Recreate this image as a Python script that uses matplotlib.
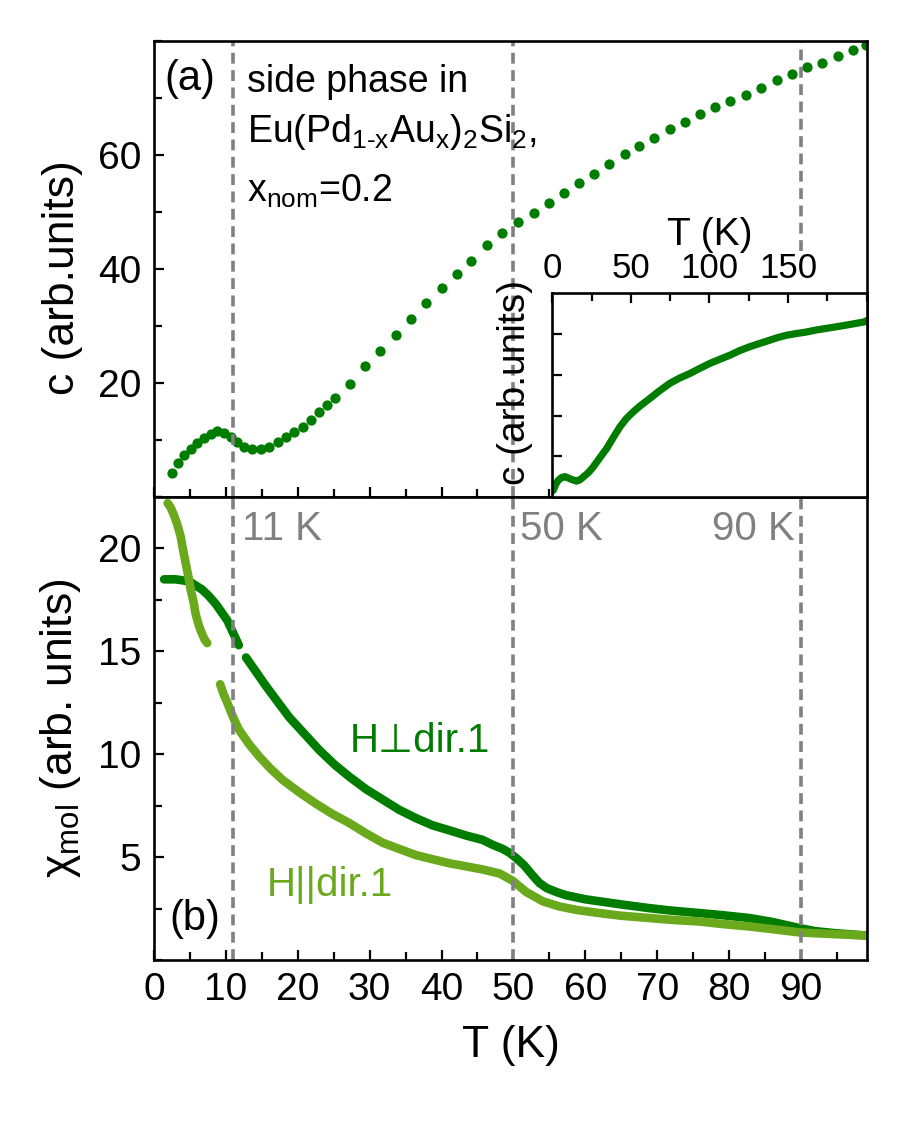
import matplotlib
matplotlib.use('Agg')
import numpy as np
import matplotlib.pyplot as plt
from matplotlib.ticker import MultipleLocator

plt.rcParams['font.family'] = ['Liberation Sans', 'DejaVu Sans']
plt.rcParams['mathtext.fontset'] = 'custom'
plt.rcParams['mathtext.rm'] = 'Liberation Sans'
plt.rcParams['mathtext.it'] = 'Liberation Sans:italic'
plt.rcParams['mathtext.default'] = 'regular'

# (a) specific heat, main panel
T_c = [2.5, 3.4, 4.2, 5.1, 6.0, 7.0, 7.9, 8.8, 9.7, 10.7, 11.6, 12.5, 13.7, 14.9,
       16.0, 17.2, 18.3, 19.5, 20.7, 21.8, 23.0, 24.1, 25.2, 27.3, 29.4, 31.5,
       33.7, 35.8, 37.9, 40.0, 42.1, 44.1, 46.3, 48.4, 50.6, 52.8, 54.9, 57.0,
       59.1, 61.2, 63.3, 65.5, 67.5, 69.6, 71.8, 73.9, 76.0, 78.1, 80.2, 82.4,
       84.5, 86.7, 88.8, 90.8, 93.0, 95.1, 97.3, 99.1]
c_vals = [4.3, 5.9, 7.4, 8.5, 9.4, 10.3, 11.0, 11.5, 11.2, 10.5, 9.6, 8.8, 8.4, 8.4,
          8.8, 9.6, 10.5, 11.4, 12.3, 13.5, 15.0, 16.1, 17.3, 19.9, 22.9, 25.6,
          28.5, 31.2, 34.0, 36.6, 39.2, 41.4, 44.2, 46.3, 48.3, 49.9, 51.6, 53.4,
          55.0, 56.7, 58.4, 60.1, 61.6, 63.0, 64.5, 65.8, 67.2, 68.5, 69.5, 70.6,
          71.7, 73.2, 74.2, 75.4, 76.2, 77.4, 78.5, 79.3]

# inset, full temperature range
T_in = [0.6, 2, 3.8, 6, 8.1, 10, 12.3, 15.5, 17.5, 19.7, 23, 26.1, 30, 34.6, 38.8,
        43.0, 47, 51.5, 56, 62.1, 68, 74.8, 81, 87.5, 94, 100.3, 106.5, 113, 119,
        125.7, 132, 138.4, 144, 149, 155, 161.7, 168, 174.4, 181, 187.2, 193, 198.8, 200]
c_in = [0.16, 0.3, 0.41, 0.48, 0.5, 0.47, 0.43, 0.39, 0.42, 0.49, 0.6, 0.74, 0.95,
        1.19, 1.46, 1.72, 1.92, 2.09, 2.24, 2.42, 2.6, 2.79, 2.92, 3.03, 3.16, 3.28,
        3.38, 3.48, 3.59, 3.69, 3.77, 3.85, 3.92, 3.97, 4.01, 4.05, 4.1, 4.14, 4.18,
        4.22, 4.26, 4.30, 4.33]

# (b) susceptibility, H perpendicular dir.1
T_perp_lo = [1.4, 3.0, 4.0, 4.9, 5.8, 6.7, 7.6, 8.6, 9.4, 10.2, 11.0, 11.8]
chi_perp_lo = [18.5, 18.5, 18.45, 18.4, 18.2, 18.0, 17.7, 17.3, 16.9, 16.5, 15.9, 15.3]
T_perp_hi = [12.8, 14.2, 15.6, 17.2, 18.8, 20.9, 23.0, 25.1, 27.2, 29.5, 31.8, 34.1,
             36.4, 38.7, 41.1, 43.4, 45.7, 47.1, 48.5, 49.5, 50.4, 51.5, 52.7, 53.6,
             54.6, 56.0, 57.3, 60, 62.0, 65, 68.9, 72, 75.9, 79, 82.8, 86, 89.8, 92,
             94.5, 97, 99.1]
chi_perp_hi = [14.7, 14.0, 13.3, 12.55, 11.8, 11.0, 10.2, 9.5, 8.9, 8.3, 7.8, 7.3,
               6.9, 6.55, 6.3, 6.05, 5.84, 5.6, 5.4, 5.2, 4.95, 4.6, 4.1, 3.75,
               3.5, 3.3, 3.15, 2.95, 2.85, 2.7, 2.52, 2.4, 2.28, 2.18, 2.04, 1.85, 1.55, 1.4,
               1.31, 1.24, 1.19]

# H parallel dir.1
T_par_lo = [1.9, 2.3, 2.8, 3.2, 3.7, 4.0, 4.4, 4.8, 5.1, 5.5, 5.8, 6.2, 6.5, 7.0, 7.4]
chi_par_lo = [22.2, 22.0, 21.6, 21.2, 20.6, 20.0, 19.3, 18.6, 18.0, 17.4, 16.8, 16.3,
              16.0, 15.6, 15.4]
T_par_hi = [9.2, 9.7, 10.2, 11.0, 11.8, 13.2, 14.6, 16.2, 17.9, 20.2, 22.5, 24.8,
            27.2, 29.5, 31.8, 34.1, 36.4, 38.7, 41.1, 43.4, 45.7, 48.1, 49.9, 51.8,
            54.1, 56.4, 59, 62.0, 65, 68.9, 72, 75.9, 79, 82.8, 86, 89.8, 92, 94.5, 97, 99.1]
chi_par_hi = [13.4, 12.9, 12.5, 11.8, 11.2, 10.5, 9.9, 9.3, 8.75, 8.15, 7.6, 7.1,
              6.65, 6.15, 5.7, 5.4, 5.1, 4.9, 4.7, 4.55, 4.4, 4.2, 3.85, 3.3,
              2.85, 2.6, 2.42, 2.28, 2.15, 2.04, 1.95, 1.87, 1.75, 1.63, 1.5, 1.34, 1.3,
              1.26, 1.22, 1.19]

T_marks = [11, 50, 90]
mark_labels = ['11 K', '50 K', '90 K']

dark = '#007D00'
light = '#6AA91C'
grey = '#808080'
dash = (0, (3, 1.8))

fig = plt.figure(figsize=(8.97, 11.35), dpi=100)
ax1 = fig.add_axes([0.1717, 0.5621, 0.7949, 0.4018])
ax2 = fig.add_axes([0.1717, 0.1542, 0.7949, 0.4079])
ins = fig.add_axes([0.6157, 0.5621, 0.3505, 0.1795])


def style(ax, fs):
    for s in ax.spines.values():
        s.set_linewidth(1.9)
    ax.tick_params(which='both', direction='in', width=1.6, labelsize=fs, pad=9)
    ax.tick_params(which='major', length=7.5)
    ax.tick_params(which='minor', length=6)


# top panel
ax1.plot(T_c, c_vals, 'o', color=dark, ms=7.4, mec='none')
for t in T_marks:
    if t == 90:
        ax1.axvline(t, ymin=0.54, color=grey, lw=2.6, ls=dash)
    else:
        ax1.axvline(t, color=grey, lw=2.6, ls=dash)
ax1.set_xlim(0, 99.2)
ax1.set_ylim(0, 80)
ax1.xaxis.set_major_locator(MultipleLocator(10))
ax1.xaxis.set_minor_locator(MultipleLocator(5))
ax1.yaxis.set_minor_locator(MultipleLocator(10))
ax1.set_yticks([20, 40, 60])
style(ax1, 28)
ax1.tick_params(labelbottom=False)
ax1.set_ylabel('c (arb.units)', fontsize=32)
ax1.yaxis.set_label_coords(-0.10, 0.48)
ax1.text(1.4, 71.4, '(a)', fontsize=30, va='baseline')
ax1.text(13.0, 71.0, 'side phase in', fontsize=27, va='baseline')
ax1.text(13.0, 62.3, r'Eu(Pd$_{1\text{-}x}$Au$_{x}$)$_{2}$Si$_{2}$,', fontsize=27, va='baseline')
ax1.text(13.0, 51.8, r'x$_{nom}$=0.2', fontsize=27, va='baseline')

# bottom panel
lw_b = 6.2
ax2.plot(T_perp_lo, chi_perp_lo, color=dark, lw=lw_b, solid_capstyle='round')
ax2.plot(T_perp_hi, chi_perp_hi, color=dark, lw=lw_b, solid_capstyle='round')
ax2.plot(T_par_lo, chi_par_lo, color=light, lw=lw_b, solid_capstyle='round')
ax2.plot(T_par_hi, chi_par_hi, color=light, lw=lw_b, solid_capstyle='round')
for t in T_marks:
    ax2.axvline(t, color=grey, lw=2.6, ls=dash)
for lab, x, ha in zip(mark_labels, [12.3, 50.9, 89.1], ['left', 'left', 'right']):
    ax2.text(x, 20.4, lab, color=grey, fontsize=29, ha=ha, va='baseline')
ax2.set_xlim(0, 99.2)
ax2.set_ylim(0, 22.5)
ax2.xaxis.set_minor_locator(MultipleLocator(5))
ax2.set_xticks(range(0, 100, 10))
ax2.yaxis.set_minor_locator(MultipleLocator(2.5))
ax2.set_yticks([5, 10, 15, 20])
style(ax2, 28)
ax2.set_xlabel('T (K)', fontsize=32, labelpad=12)
ax2.set_ylabel('χ$_{mol}$ (arb. units)', fontsize=32)
ax2.yaxis.set_label_coords(-0.10, 0.5)
ax2.text(27.2, 10.1, 'H\u22a5dir.1', color=dark, fontsize=29, va='baseline')
ax2.text(15.7, 3.1, 'H||dir.1', color=light, fontsize=29, va='baseline')
ax2.text(2.1, 1.47, '(b)', fontsize=30, va='baseline')

# inset
ins.plot(T_in, c_in, color=dark, lw=5.2, solid_capstyle='round')
ins.set_xlim(0, 200)
ins.set_ylim(0, 5)
ins.xaxis.set_minor_locator(MultipleLocator(25))
ins.set_xticks([0, 50, 100, 150])
ins.set_yticks([1, 2, 3, 4])
style(ins, 25)
ins.tick_params(axis='x', which='both', top=True, bottom=False, labeltop=True, labelbottom=False, pad=6)
ins.tick_params(axis='y', labelleft=False)
ins.xaxis.set_label_position('top')
ins.set_xlabel('T (K)', fontsize=28, labelpad=5)
ins.set_ylabel('c (arb.units)', fontsize=28)
ins.yaxis.set_label_coords(-0.06, 0.56)

fig.savefig('out.png', dpi=100)
